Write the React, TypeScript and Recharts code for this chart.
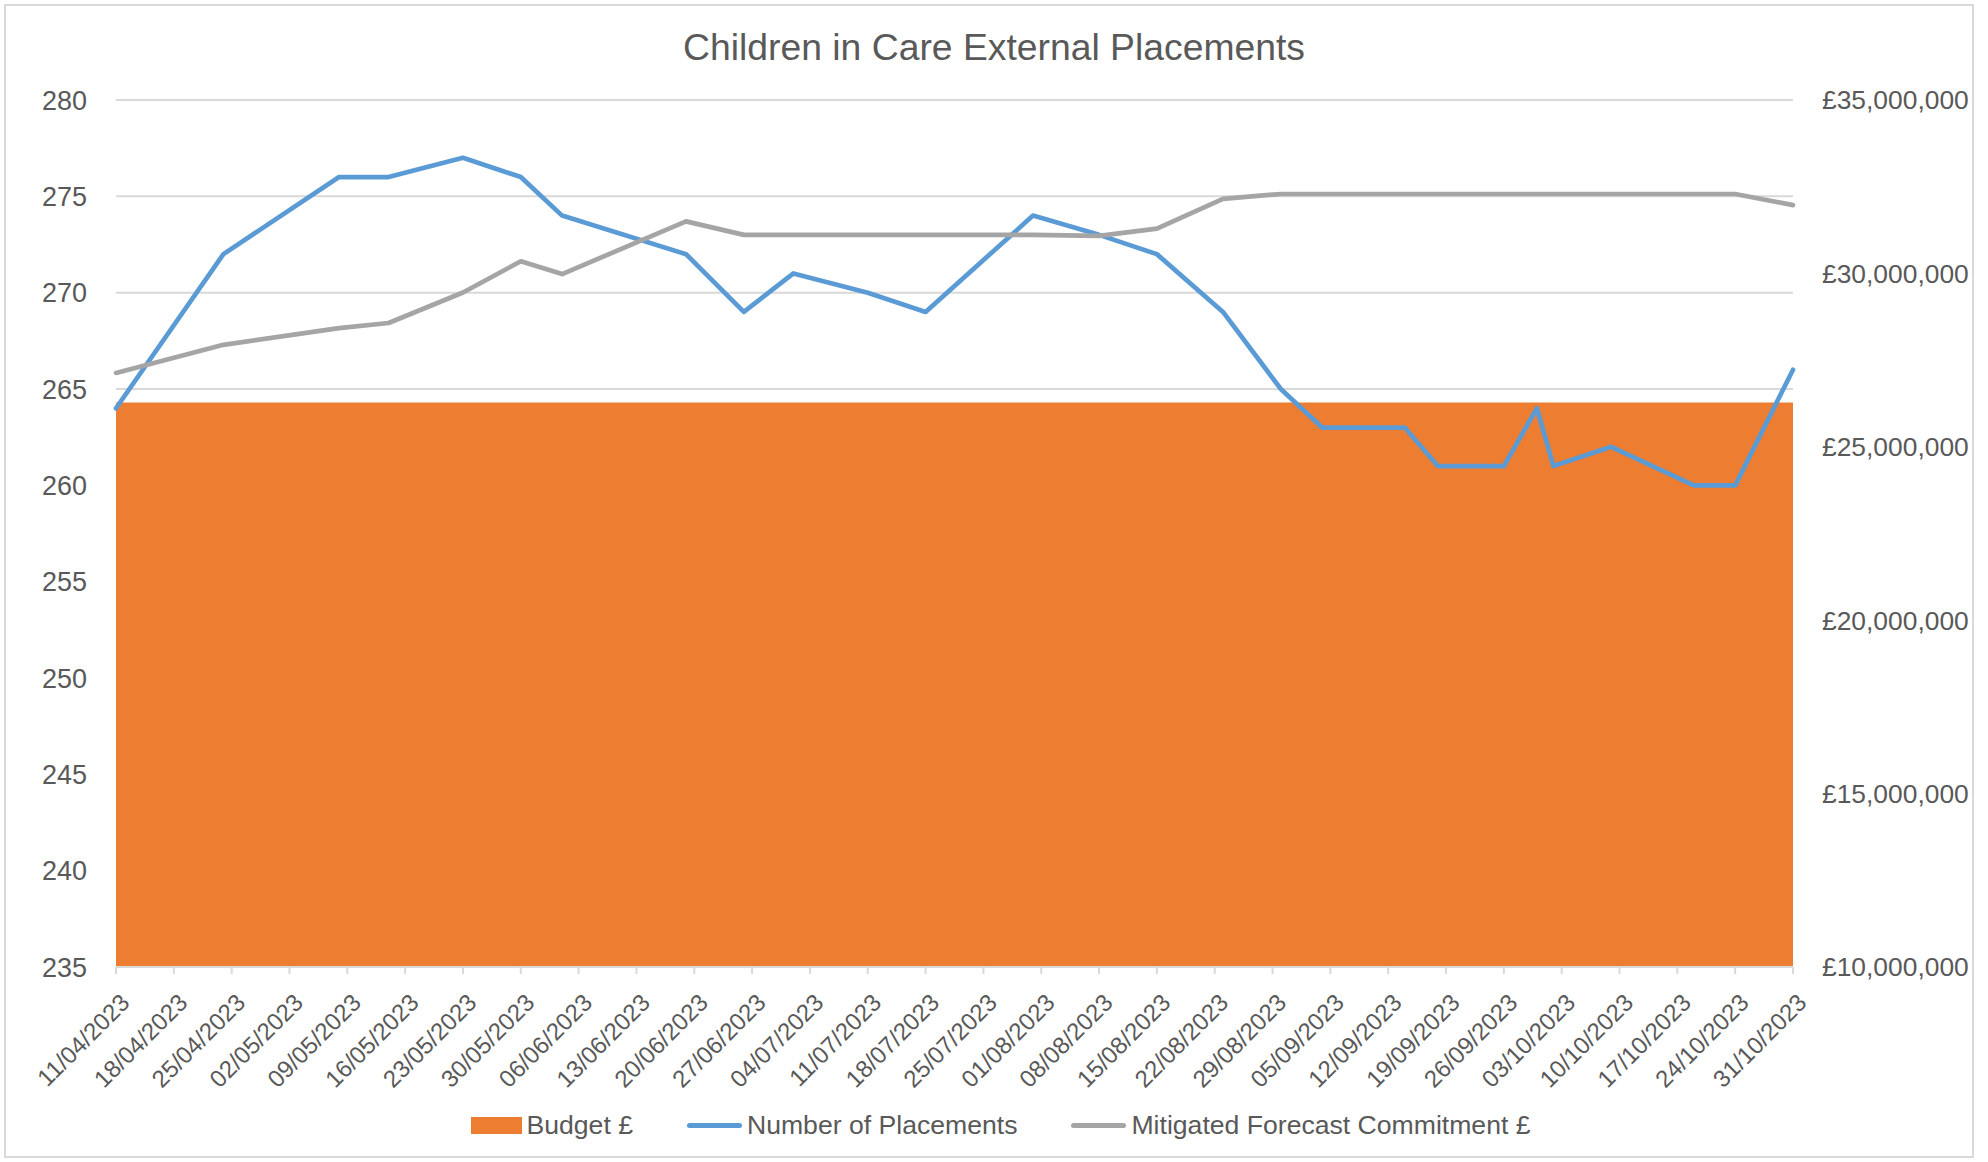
import {
  ComposedChart,
  Area,
  Line,
  XAxis,
  YAxis,
  CartesianGrid,
  Legend,
} from "recharts";

// observation dates (points are not exactly weekly)
const dates = [
  "11/04/2023", "24/04/2023", "08/05/2023", "14/05/2023", "23/05/2023", "30/05/2023",
  "04/06/2023", "19/06/2023", "26/06/2023", "02/07/2023", "11/07/2023", "18/07/2023",
  "31/07/2023", "08/08/2023", "15/08/2023", "23/08/2023", "30/08/2023", "04/09/2023",
  "14/09/2023", "18/09/2023", "26/09/2023", "30/09/2023", "02/10/2023", "09/10/2023",
  "19/10/2023", "24/10/2023", "31/10/2023",
];

const placements = [
  264, 272, 276, 276, 277, 276, 274, 272, 269, 271, 270, 269, 274, 273, 272, 269, 265, 263,
  263, 261, 261, 264, 261, 262, 260, 260, 266,
];

const forecast = [
  27130000, 27940000, 28420000, 28570000, 29450000, 30350000, 29980000, 31500000, 31110000,
  31110000, 31110000, 31110000, 31110000, 31080000, 31290000, 32150000, 32290000, 32290000,
  32290000, 32290000, 32290000, 32290000, 32290000, 32290000, 32290000, 32290000, 31970000,
];

const budget = [
  26280000, 26280000, 26280000, 26280000, 26280000, 26280000, 26280000, 26280000, 26280000,
  26280000, 26280000, 26280000, 26280000, 26280000, 26280000, 26280000, 26280000, 26280000,
  26280000, 26280000, 26280000, 26280000, 26280000, 26280000, 26280000, 26280000, 26280000,
];

// weekly axis labels
const tickLabels = [
  "11/04/2023", "18/04/2023", "25/04/2023", "02/05/2023", "09/05/2023", "16/05/2023",
  "23/05/2023", "30/05/2023", "06/06/2023", "13/06/2023", "20/06/2023", "27/06/2023",
  "04/07/2023", "11/07/2023", "18/07/2023", "25/07/2023", "01/08/2023", "08/08/2023",
  "15/08/2023", "22/08/2023", "29/08/2023", "05/09/2023", "12/09/2023", "19/09/2023",
  "26/09/2023", "03/10/2023", "10/10/2023", "17/10/2023", "24/10/2023", "31/10/2023",
];

const leftTicks = [235, 240, 245, 250, 255, 260, 265, 270, 275, 280];
const rightTicks = [10000000, 15000000, 20000000, 25000000, 30000000, 35000000];

const FONT = '"Liberation Sans", Arial, sans-serif';
const TEXT = "#595959";
const GRID = "#d9d9d9";
const ORANGE = "#ED7D31";
const BLUE = "#5B9BD5";
const GREY = "#A5A5A5";

const toUtc = (s: string) => {
  const [d, m, y] = s.split("/").map(Number);
  return Date.UTC(y, m - 1, d);
};
const start = toUtc(tickLabels[0]);
const dayOf = (s: string) => Math.round((toUtc(s) - start) / 86400000);

const tickDays = tickLabels.map(dayOf);
const labelByDay: Record<number, string> = {};
tickLabels.forEach((l) => (labelByDay[dayOf(l)] = l));

const data = dates.map((d, i) => ({
  day: dayOf(d),
  budget: budget[i],
  placements: placements[i],
  forecast: forecast[i],
}));

const gbp = (v: number) => "£" + v.toLocaleString("en-GB");

const DateTick = (props: any) => {
  const { x, y, payload } = props;
  return (
    <g transform={`translate(${x + 3},${y + 16})`}>
      <text x={0} y={0} dy="0.71em" textAnchor="end" transform="rotate(-45)" fill={TEXT} fontSize={24}>
        {labelByDay[payload.value]}
      </text>
    </g>
  );
};

const legendItems = [
  { name: "Budget £", color: ORANGE, kind: "box" },
  { name: "Number of Placements", color: BLUE, kind: "line" },
  { name: "Mitigated Forecast Commitment £", color: GREY, kind: "line" },
];

const renderLegend = () => (
  <div
    style={{
      display: "flex",
      justifyContent: "center",
      alignItems: "center",
      gap: 54,
      height: 40,
      paddingLeft: 18,
      fontSize: 26.6,
      color: TEXT,
    }}
  >
    {legendItems.map((it) => (
      <div key={it.name} style={{ display: "flex", alignItems: "center", gap: 5 }}>
        {it.kind === "box" ? (
          <span style={{ width: 51, height: 17, background: it.color, display: "inline-block" }} />
        ) : (
          <span style={{ width: 55, height: 5, background: it.color, borderRadius: 3, display: "inline-block" }} />
        )}
        <span>{it.name}</span>
      </div>
    ))}
  </div>
);

export default function App() {
  return (
    <div
      style={{
        position: "absolute",
        left: 0,
        top: 0,
        width: 1988,
        height: 1162,
        background: "#fff",
        fontFamily: FONT,
      }}
    >
      <div
        style={{
          position: "absolute",
          left: 4,
          top: 4,
          width: 1970,
          height: 1154,
          border: `2px solid ${GRID}`,
          boxSizing: "border-box",
        }}
      />
      <div
        style={{
          position: "absolute",
          left: 0,
          top: 29,
          width: 1988,
          textAlign: "center",
          fontSize: 37.3,
          lineHeight: "37px",
          color: TEXT,
        }}
      >
        Children in Care External Placements
      </div>
      <ComposedChart
        width={1988}
        height={1162}
        data={data}
        margin={{ top: 100, right: 15, bottom: 17, left: 10 }}
      >
        <CartesianGrid vertical={false} stroke={GRID} strokeWidth={2} yAxisId="left" />
        <XAxis
          dataKey="day"
          type="number"
          domain={[tickDays[0], tickDays[tickDays.length - 1]]}
          ticks={tickDays}
          interval={0}
          height={138}
          tick={<DateTick />}
          tickSize={7}
          tickLine={{ stroke: GRID, strokeWidth: 2 }}
          axisLine={{ stroke: GRID, strokeWidth: 2 }}
        />
        <YAxis
          yAxisId="left"
          orientation="left"
          width={106}
          domain={[235, 280]}
          ticks={leftTicks}
          interval={0}
          axisLine={false}
          tickLine={false}
          tickMargin={23}
          tick={{ fill: TEXT, fontSize: 27 }}
        />
        <YAxis
          yAxisId="right"
          orientation="right"
          width={180}
          domain={[10000000, 35000000]}
          ticks={rightTicks}
          interval={0}
          axisLine={false}
          tickLine={false}
          tickMargin={23}
          tickFormatter={gbp}
          tick={{ fill: TEXT, fontSize: 26.4 }}
        />
        <Legend verticalAlign="bottom" content={renderLegend} wrapperStyle={{ height: 40 }} />
        <Area
          yAxisId="right"
          type="linear"
          dataKey="budget"
          name="Budget £"
          fill={ORANGE}
          fillOpacity={1}
          stroke="none"
          isAnimationActive={false}
        />
        <Line
          yAxisId="left"
          type="linear"
          dataKey="placements"
          name="Number of Placements"
          stroke={BLUE}
          strokeWidth={4.7}
          strokeLinejoin="round"
          strokeLinecap="round"
          dot={false}
          activeDot={false}
          isAnimationActive={false}
        />
        <Line
          yAxisId="right"
          type="linear"
          dataKey="forecast"
          name="Mitigated Forecast Commitment £"
          stroke={GREY}
          strokeWidth={4.7}
          strokeLinejoin="round"
          strokeLinecap="round"
          dot={false}
          activeDot={false}
          isAnimationActive={false}
        />
      </ComposedChart>
    </div>
  );
}
